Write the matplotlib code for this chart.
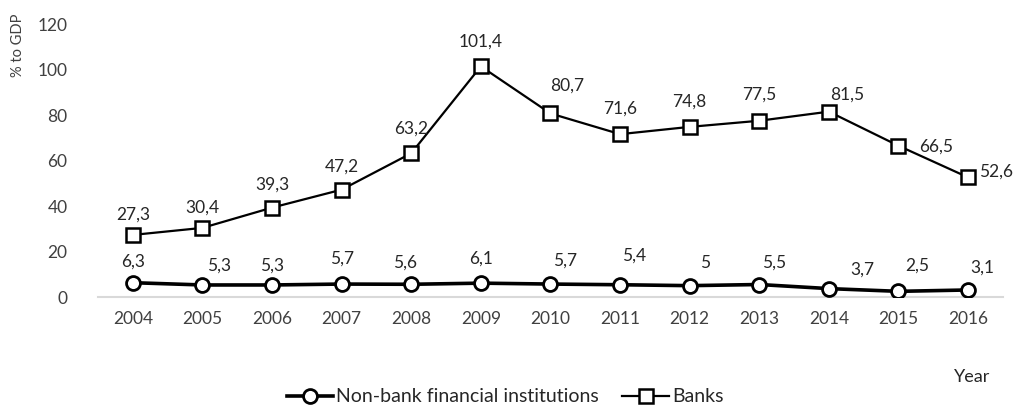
import matplotlib
matplotlib.use("Agg")
import matplotlib.pyplot as plt

years = [2004, 2005, 2006, 2007, 2008, 2009, 2010, 2011, 2012, 2013, 2014, 2015, 2016]
nonbank = [6.3, 5.3, 5.3, 5.7, 5.6, 6.1, 5.7, 5.4, 5.0, 5.5, 3.7, 2.5, 3.1]
banks = [27.3, 30.4, 39.3, 47.2, 63.2, 101.4, 80.7, 71.6, 74.8, 77.5, 81.5, 66.5, 52.6]
nonbank_labels = ["6,3", "5,3", "5,3", "5,7", "5,6", "6,1", "5,7", "5,4", "5", "5,5", "3,7", "2,5", "3,1"]
banks_labels = ["27,3", "30,4", "39,3", "47,2", "63,2", "101,4", "80,7", "71,6", "74,8", "77,5", "81,5", "66,5", "52,6"]

# label offsets in pixels (dx, dy) relative to marker
nb_off = [(0, 21), (17, 19), (0, 19), (0, 25), (-6, 22), (0, 25), (15, 23), (14, 29), (15, 23), (15, 22), (33, 19), (19, 26), (14, 22)]
bk_off = [(0, 20), (0, 20), (0, 23), (0, 23), (0, 25), (0, 25), (17, 28), (0, 26), (0, 25), (0, 26), (18, 17), (38, -1), (28, 6)]

plt.rcParams['font.family'] = ['Lato', 'DejaVu Sans']
fig = plt.figure(figsize=(10.19, 4.08), dpi=100)
ax = fig.add_axes([0.0962, 0.272, 0.888, 0.669])

x = list(range(len(years)))
ax.plot(x, nonbank, color='black', lw=2.6, marker='o', ms=10, mfc='white', mec='black', mew=2,
        label='Non-bank financial institutions', zorder=3)
ax.plot(x, banks, color='black', lw=1.6, marker='s', ms=9.5, mfc='white', mec='black', mew=1.8,
        label='Banks', zorder=3)

tc = '#404040'
for i in x:
    ax.annotate(nonbank_labels[i], (i, nonbank[i]), xytext=nb_off[i], textcoords='offset pixels',
                ha='center', va='center', fontsize=12.5, color='#262626')
    ax.annotate(banks_labels[i], (i, banks[i]), xytext=bk_off[i], textcoords='offset pixels',
                ha='center', va='center', fontsize=12.5, color='#262626')

ax.set_xlim(-0.5, len(years) - 0.5)
ax.set_ylim(0, 120)
ax.set_yticks([0, 20, 40, 60, 80, 100, 120])
ax.set_xticks(x)
ax.set_xticklabels([str(y) for y in years])
ax.tick_params(axis='both', length=0, labelsize=12.5, colors=tc)
ax.tick_params(axis='y', pad=22)
ax.tick_params(axis='x', pad=10)
for s in ['top', 'right', 'left']:
    ax.spines[s].set_visible(False)
ax.spines['bottom'].set_color('#d9d9d9')
ax.spines['bottom'].set_linewidth(1.5)

fig.text(18 / 1019, 1 - 45 / 408, '% to GDP', rotation=90, ha='center', va='center', fontsize=10.5, color=tc)
fig.text(972 / 1019, 1 - 377 / 408, 'Year', ha='center', va='center', fontsize=13, color='#262626')

leg = fig.legend(loc='center', bbox_to_anchor=(505 / 1019, 1 - 397 / 408), ncol=2, frameon=False,
                 fontsize=14, handlelength=2.4, handletextpad=0.15, columnspacing=1.2)
for t in leg.get_texts():
    t.set_color('#262626')

fig.savefig('out.png', dpi=100)
